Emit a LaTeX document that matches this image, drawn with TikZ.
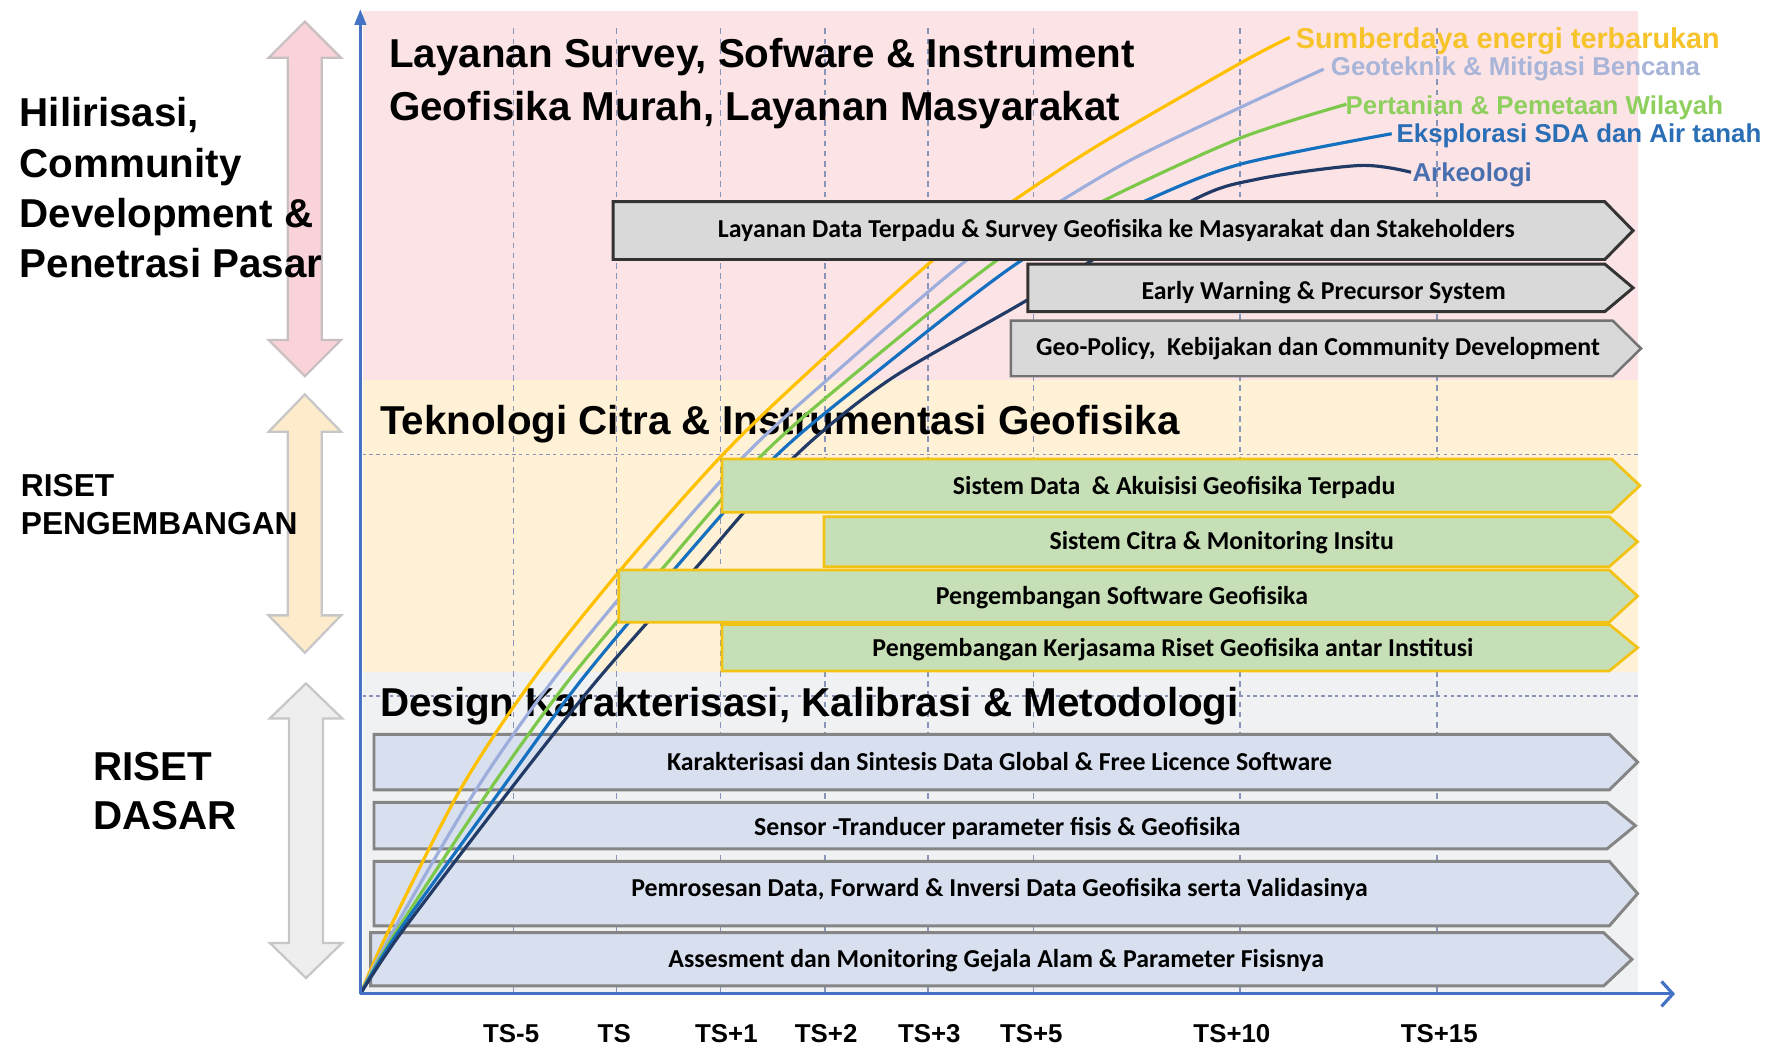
\documentclass[tikz,border=0pt]{standalone}
\usepackage{fontspec}
\setmainfont{Liberation Sans}
\newfontfamily\calfont{Carlito}
\usetikzlibrary{arrows.meta}
\definecolor{bgpink}{HTML}{FCE4E6}
\definecolor{bgyel}{HTML}{FFF1D6}
\definecolor{bggrey}{HTML}{F0F1F3}
\definecolor{axisblue}{HTML}{4472C4}
\definecolor{gridc}{HTML}{8895B8}
\definecolor{cyel}{HTML}{FFC000}
\definecolor{clav}{HTML}{9DAEDD}
\definecolor{cgrn}{HTML}{7CC84A}
\definecolor{cblu}{HTML}{1570C0}
\definecolor{cnavy}{HTML}{223A66}
\definecolor{lyel}{HTML}{F6C42A}
\definecolor{llav}{HTML}{A8B5D8}
\definecolor{lgrn}{HTML}{8ECF5E}
\definecolor{lblu}{HTML}{2A6EB5}
\definecolor{lark}{HTML}{4A6FAE}
\definecolor{boxgrey}{HTML}{D9D9D9}
\definecolor{boxgreen}{HTML}{C6DFB6}
\definecolor{boxgold}{HTML}{F2C314}
\definecolor{boxblue}{HTML}{D8DFEF}
\definecolor{boxblueedge}{HTML}{858585}
\definecolor{arpink}{HTML}{F9D3D9}
\definecolor{aryel}{HTML}{FDEBCB}
\definecolor{argrey}{HTML}{EEEEEE}
\definecolor{aredge}{HTML}{C8C0C0}
\newcommand\pentbox[5]{\draw[#1] (#2,#3) -- ({#5-25},#3) -- (#5,{(#3+#4)/2}) -- ({#5-25},#4) -- (#2,#4) -- cycle;}
\newcommand\dblarrow[5]{\draw[#1] (#2,#3) -- ({#2+32},{#3+#5}) -- ({#2+15},{#3+#5}) -- ({#2+15},{#4-#5}) -- ({#2+32},{#4-#5}) -- (#2,#4) -- ({#2-32},{#4-#5}) -- ({#2-15},{#4-#5}) -- ({#2-15},{#3+#5}) -- ({#2-32},{#3+#5}) -- cycle;}
\tikzset{
  txt/.style={inner sep=0pt, anchor=base west},
  bigtitle/.style={txt, font=\bfseries\fontsize{17.8}{20}\selectfont},
  boxtext/.style={inner sep=0pt, font=\calfont\bfseries\fontsize{11.4}{13}\selectfont},
  ticklab/.style={inner sep=0pt, anchor=base, font=\bfseries\fontsize{11.4}{13}\selectfont},
  curvelab/.style={txt, font=\bfseries\fontsize{11.4}{13}\selectfont},
  greybox/.style={fill=boxgrey, draw=black!80, line width=1.3pt},
  greybox2/.style={fill=boxgrey, draw=black!55, line width=1.1pt},
  greenbox/.style={fill=boxgreen, draw=boxgold, line width=1.2pt},
  bluebox/.style={fill=boxblue, draw=boxblueedge, line width=1.3pt},
  grid/.style={gridc, line width=0.6pt, dash pattern=on 2.5pt off 2pt},
  hgrid/.style={gridc, line width=0.6pt, dash pattern=on 1.5pt off 1.5pt},
  curve/.style={line width=1.4pt, line join=round},
  axis/.style={axisblue, line width=1.4pt}
}
\begin{document}
\begin{tikzpicture}[x=0.5pt, y=-0.5pt]
\useasboundingbox (0,0) rectangle (1568,924);
% backgrounds
\fill[bgpink] (320,10) rectangle (1445,335);
\fill[bgyel] (320,335) rectangle (1445,593);
\fill[bggrey] (320,593) rectangle (1445,877);
% grid
\foreach \gx in {453,544,636,728,819,912,1094,1268}
  \draw[grid] (\gx,25) -- (\gx,877);
\draw[hgrid] (320,401) -- (1445,401);
\draw[hgrid] (320,614) -- (1445,614);
% left double arrows
\dblarrow{fill=arpink, draw=aredge, line width=1pt}{269}{19}{332}{32}
\dblarrow{fill=aryel, draw=black!22, line width=1pt}{269}{348}{576}{33}
\dblarrow{fill=argrey, draw=black!22, line width=1pt}{270}{603}{863}{31}
% left labels
\node[bigtitle] (h1) at (17,112) {Hilirisasi,};
\node[bigtitle] (h2) at (17,157) {Community};
\node[bigtitle] (h3) at (17,201) {Development \&};
\node[bigtitle] (h4) at (17,245) {Penetrasi Pasar};
\node[txt, font=\bfseries\fontsize{14}{16}\selectfont] (rp1) at (18,438) {RISET};
\node[txt, font=\bfseries\fontsize{14}{16}\selectfont] (rp2) at (18,472) {PENGEMBANGAN};
\node[bigtitle] (rd1) at (82,689) {RISET};
\node[bigtitle] (rd2) at (82,732) {DASAR};
% section titles
\node[bigtitle] (s1a) at (343,60) {Layanan Survey, Sofware \& Instrument};
\node[bigtitle] (s1b) at (343,106) {Geofisika Murah, Layanan Masyarakat};
\node[bigtitle] (s2) at (335,383) {Teknologi Citra \& Instrumentasi Geofisika};
\node[bigtitle] (s3) at (335,632) {Design Karakterisasi, Kalibrasi \& Metodologi};
% bottom (blue) boxes
\pentbox{bluebox}{330}{648}{697}{1445}
\pentbox{bluebox}{330}{708}{749}{1443}
\pentbox{bluebox}{330}{760}{817}{1445}
\pentbox{bluebox}{327}{823}{870}{1440}
\node[boxtext] (b8) at (882,672) {Karakterisasi dan Sintesis Data Global \& Free Licence Software};
\node[boxtext] (b9) at (880,731) {Sensor -Tranducer parameter fisis \& Geofisika};
\node[boxtext] (b10) at (882,785) {Pemrosesan Data, Forward \& Inversi Data Geofisika serta Validasinya};
\node[boxtext] (b11) at (879,848) {Assesment dan Monitoring Gejala Alam \& Parameter Fisisnya};
% curves
\draw[curve, cyel] plot[smooth] coordinates {(318,877) (342,823) (406,697) (470,600) (550,500) (635,404) (706,335) (825,228) (893,178) (971,127) (1094,56) (1138,33)};
\draw[curve, clav] plot[smooth] coordinates {(318,877) (346,823) (420,697) (488,600) (570,500) (655,404) (730,335) (855,228) (935,178) (1000,140) (1094,95) (1168,61)};
\draw[curve, cgrn] plot[smooth] coordinates {(318,877) (349,823) (432,697) (502,600) (586,500) (670,404) (748,335) (882,228) (974,177) (1094,122) (1188,92)};
\draw[curve, cblu] plot[smooth] coordinates {(318,877) (351,823) (442,697) (513,600) (597,500) (683,404) (765,335) (904,228) (1009,178) (1094,145) (1228,118)};
\draw[curve, cnavy] plot[smooth] coordinates {(318,877) (354,823) (450,697) (527,600) (615,500) (700,404) (785,335) (906,265) (1050,178) (1110,158) (1200,146) (1245,152)};
% pink section boxes
\pentbox{greybox}{541}{178}{229}{1441}
\pentbox{greybox}{907}{233}{275}{1441}
\pentbox{greybox2}{892}{283}{332}{1448}
\node[boxtext] (b1) at (985,203) {Layanan Data Terpadu \& Survey Geofisika ke Masyarakat dan Stakeholders};
\node[boxtext] (b2) at (1168,258) {Early Warning \& Precursor System};
\node[boxtext] (b3) at (1163,308) {Geo-Policy,\ \ Kebijakan dan Community Development};
% yellow section boxes
\pentbox{greenbox}{637}{405}{452}{1447}
\pentbox{greenbox}{727}{456}{500}{1445}
\pentbox{greenbox}{546}{503}{549}{1445}
\pentbox{greenbox}{637}{551}{592}{1445}
\node[boxtext] (b4) at (1036,430) {Sistem Data\ \ \& Akuisisi Geofisika Terpadu};
\node[boxtext] (b5) at (1078,479) {Sistem Citra \& Monitoring Insitu};
\node[boxtext] (b6) at (990,527) {Pengembangan Software Geofisika};
\node[boxtext] (b7) at (1035,573) {Pengembangan Kerjasama Riset Geofisika antar Institusi};
% curve labels
\node[curvelab, text=lyel, font=\bfseries\fontsize{12.7}{14}\selectfont] (lsum) at (1143,43) {Sumberdaya energi terbarukan};
\node[curvelab, text=llav] (lgeo) at (1174,67) {Geoteknik \& Mitigasi Bencana};
\node[curvelab, text=lgrn] (lper) at (1187,101) {Pertanian \& Pemetaan Wilayah};
\node[curvelab, text=lblu] (leks) at (1232,126) {Eksplorasi SDA dan Air tanah};
\node[curvelab, text=lark] (lark) at (1246,160) {Arkeologi};
% axes
\coordinate (O) at (318,877);
\coordinate (ytop) at (318,8);
\coordinate (xend) at (1478,877);
\draw[axis, -{Triangle[length=7pt,width=5pt]}] (O) -- (ytop);
\draw[axis, -{Straight Barb[length=5pt,width=11pt]}] (O) -- (xend);
% tick labels
\node[ticklab] (k1) at (451,920) {TS-5};
\node[ticklab] (k2) at (542,920) {TS};
\node[ticklab] (k3) at (641,920) {TS+1};
\node[ticklab] (k4) at (729,920) {TS+2};
\node[ticklab] (k5) at (820,920) {TS+3};
\node[ticklab] (k6) at (910,920) {TS+5};
\node[ticklab] (k7) at (1087,920) {TS+10};
\node[ticklab] (k8) at (1270,920) {TS+15};
\end{tikzpicture}
\end{document}
